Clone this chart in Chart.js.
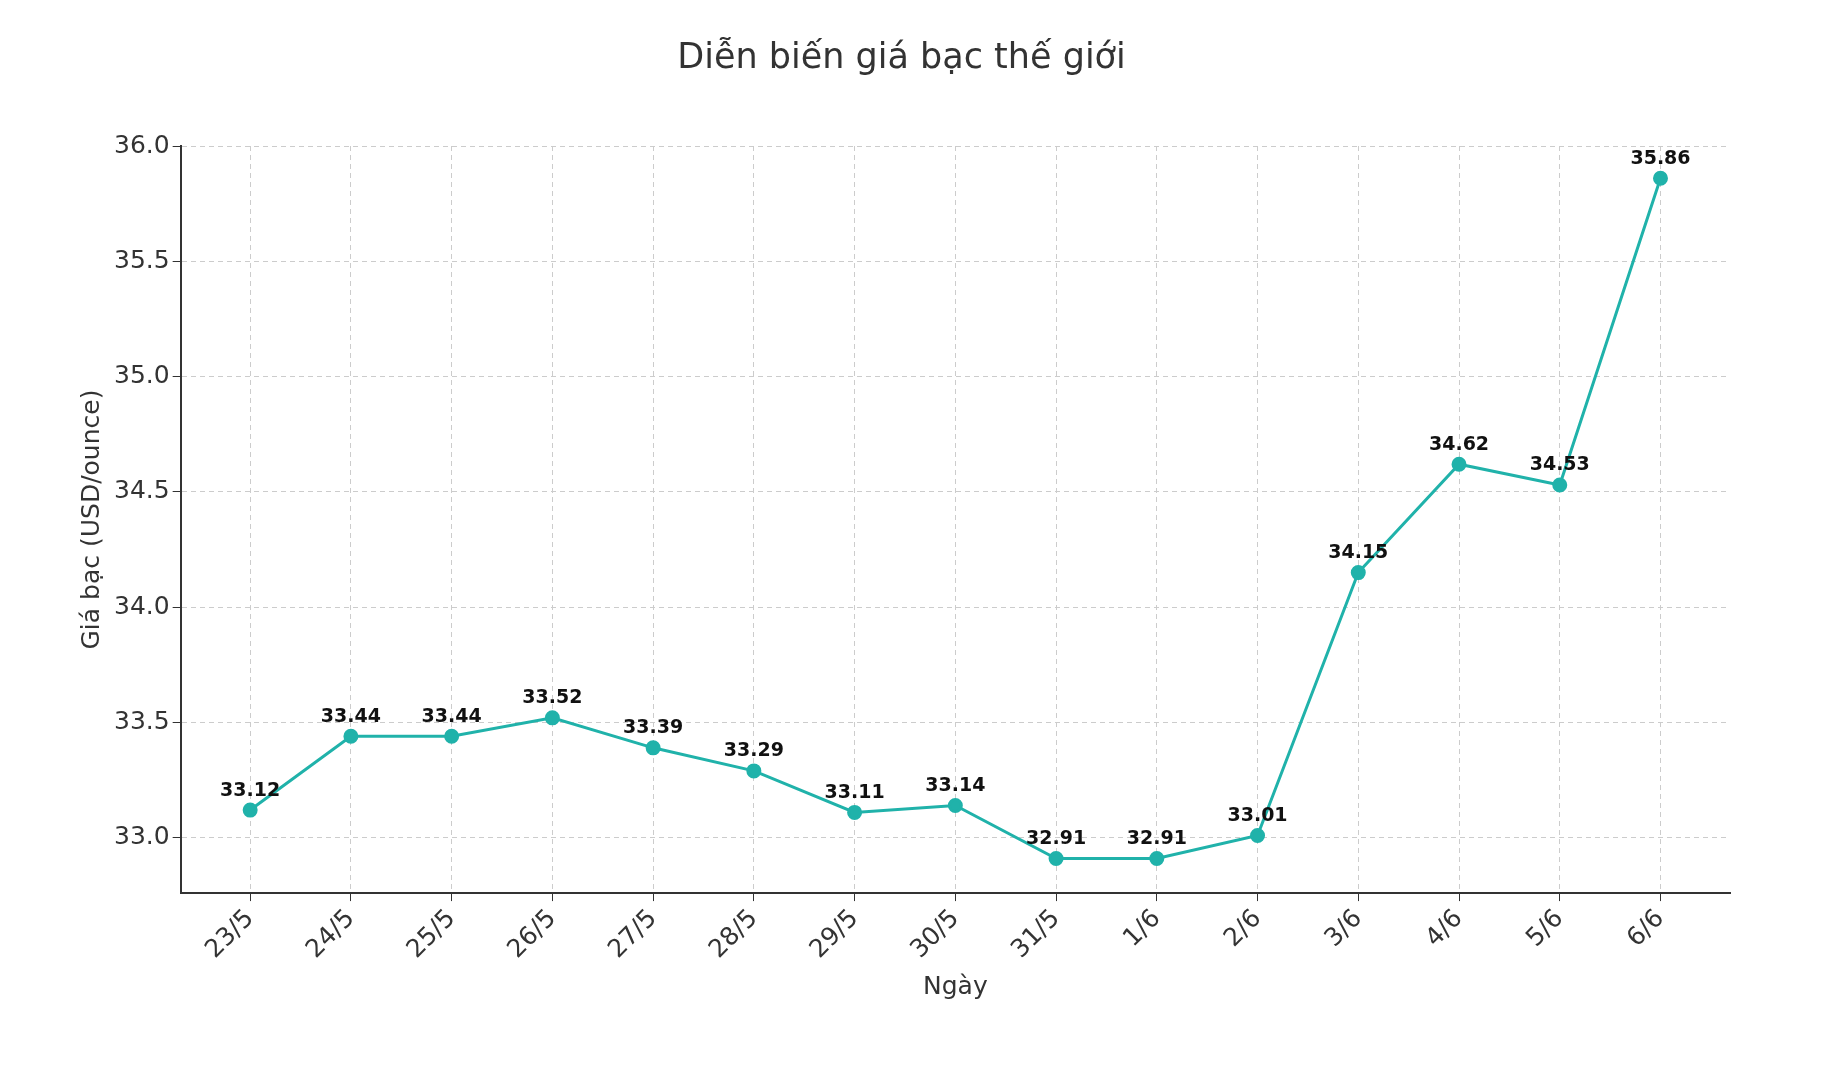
<!DOCTYPE html><html><head><meta charset="utf-8">
<script src="https://cdn.jsdelivr.net/npm/chart.js@4"></script>
<style>html,body{margin:0;background:#fff}#w{width:1838px;height:1068px}</style></head><body>
<div id="w"><canvas id="c"></canvas></div>
<script>
const categories=["23/5","24/5","25/5","26/5","27/5","28/5","29/5","30/5","31/5","1/6","2/6","3/6","4/6","5/6","6/6"];
const prices=[33.12,33.44,33.44,33.52,33.39,33.29,33.11,33.14,32.91,32.91,33.01,34.15,34.62,34.53,35.86];
const yTicks=[33.0,33.5,34.0,34.5,35.0,35.5,36.0];
const F="DejaVu Sans";
const labelsPlugin={id:'lbl',afterDatasetsDraw(ch){const c=ch.ctx;const m=ch.getDatasetMeta(0);c.save();c.font="bold 19px "+F;c.fillStyle="#111";c.textAlign="center";c.textBaseline="bottom";
m.data.forEach((p,i)=>c.fillText(prices[i].toFixed(2),p.x,p.y-10));c.restore();}};
new Chart(document.getElementById('c'),{type:'scatter',
data:{datasets:[{data:prices.map((v,i)=>({x:i,y:v})),showLine:true,borderColor:'#20b2aa',backgroundColor:'#20b2aa',borderWidth:3,pointRadius:6,pointHoverRadius:6}]},
options:{responsive:true,maintainAspectRatio:false,animation:false,
layout:{padding:{left:73,right:108,top:20,bottom:62}},
plugins:{legend:{display:false},tooltip:{enabled:false},
title:{display:true,text:'Diễn biến giá bạc thế giới',font:{family:F,size:35,weight:'normal'},color:'#333',padding:{top:18,bottom:66}}},
scales:{x:{type:'linear',min:-0.69,max:14.69,afterBuildTicks:a=>{a.ticks=categories.map((_,i)=>({value:i}));},
ticks:{callback:v=>categories[v],maxRotation:45,minRotation:45,font:{family:F,size:25},color:'#333',autoSkip:false},
grid:{color:'#ccc',tickColor:'#333',tickLength:8},border:{color:'#333',width:2,dash:[5,4]},
title:{display:true,text:'Ngày',font:{family:F,size:25},color:'#333'}},
y:{min:32.76,max:36.0,afterBuildTicks:a=>{a.ticks=yTicks.map(v=>({value:v}));},
ticks:{callback:v=>v.toFixed(1),font:{family:F,size:25},color:'#333'},
grid:{color:'#ccc',tickColor:'#333',tickLength:8},border:{color:'#333',width:2,dash:[5,4]},
title:{display:true,text:'Giá bạc (USD/ounce)',font:{family:F,size:25},color:'#333'}}}},
plugins:[labelsPlugin]});
</script></body></html>
